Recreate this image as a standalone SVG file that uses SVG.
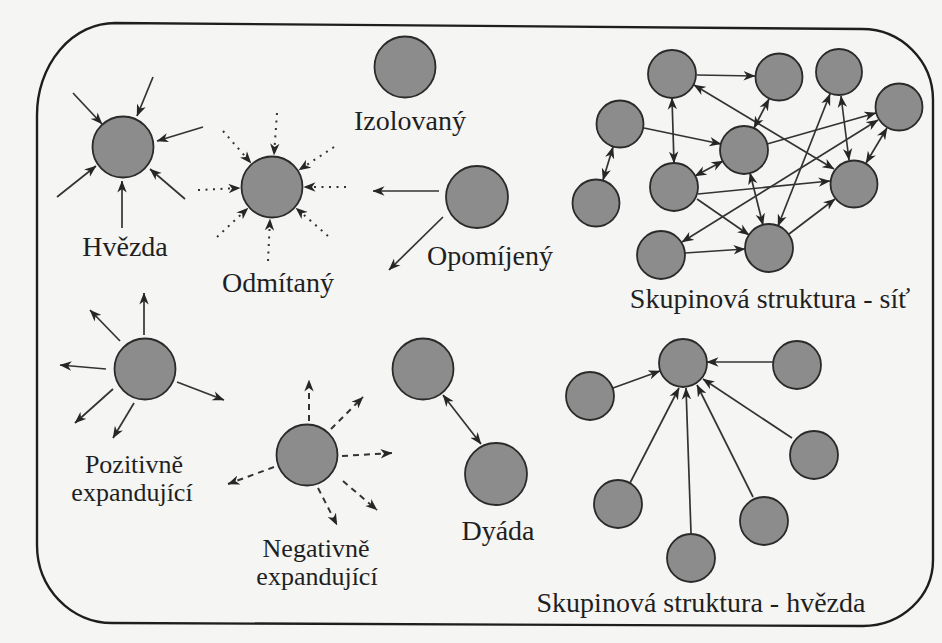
<svg xmlns="http://www.w3.org/2000/svg" width="942" height="643" viewBox="0 0 942 643">
<defs>
<style>
.bg{fill:#f5f5f3}
.frame{fill:none;stroke:#1e1e1e;stroke-width:2.4}
.n{fill:#8c8c8c;stroke:#2a2a2a;stroke-width:1.8}
.t{font-family:"Liberation Serif","Times New Roman",serif;font-size:28px;fill:#1f1f1f;text-anchor:middle}
.t2{font-size:26px}
.e{fill:none;stroke:#333;stroke-width:1.7}
.one{marker-end:url(#ah)}
.two{marker-start:url(#ah);marker-end:url(#ah)}
.dot{stroke-dasharray:2 5.5;stroke-width:2}
.dash{stroke-dasharray:6 5;stroke-width:2}
</style>
<marker id="ah" viewBox="0 0 12 10" refX="11.5" refY="5" markerWidth="12" markerHeight="10" markerUnits="userSpaceOnUse" orient="auto-start-reverse">
<path d="M0,0.3 L12,5 L0,9.7 L3.5,5 Z" fill="#262626"/>
</marker>
</defs>
<rect class="bg" x="0" y="0" width="942" height="643"/>
<path class="frame" d="M115,23 L862,29 A71 71 0 0 1 933,100 L933,560 A70 66 0 0 1 863,626 L112,623 A75 78 0 0 1 37,545 L37,115 A78 92 0 0 1 115,23 Z"/>

<g id="connectors">
<!-- Hvezda (incoming) -->
<line class="e one" x1="73" y1="93" x2="102" y2="124"/>
<line class="e one" x1="153" y1="77" x2="137" y2="116"/>
<line class="e one" x1="203" y1="127" x2="157" y2="141"/>
<line class="e one" x1="57" y1="197" x2="96" y2="166"/>
<line class="e one" x1="185" y1="199" x2="150" y2="169"/>
<line class="e one" x1="122" y1="228" x2="122" y2="181"/>
<!-- Odmitany (dotted incoming) -->
<line class="e one dot" x1="277" y1="113" x2="274" y2="155"/>
<line class="e one dot" x1="334" y1="147" x2="299" y2="170"/>
<line class="e one dot" x1="346" y1="187" x2="304" y2="187"/>
<line class="e one dot" x1="328" y1="236" x2="296" y2="208"/>
<line class="e one dot" x1="268" y1="261" x2="270" y2="219"/>
<line class="e one dot" x1="217" y1="237" x2="248" y2="208"/>
<line class="e one dot" x1="198" y1="190" x2="240" y2="188"/>
<line class="e one dot" x1="223" y1="131" x2="251" y2="163"/>
<!-- Opomijeny (outgoing) -->
<line class="e one" x1="439" y1="191" x2="373" y2="191"/>
<line class="e one" x1="443" y1="217" x2="389" y2="270"/>
<!-- Pozitivne expandujici -->
<line class="e one" x1="144" y1="335" x2="144" y2="293"/>
<line class="e one" x1="120" y1="341" x2="90" y2="310"/>
<line class="e one" x1="106" y1="369" x2="60" y2="365"/>
<line class="e one" x1="113" y1="389" x2="75" y2="423"/>
<line class="e one" x1="134" y1="403" x2="113" y2="438"/>
<line class="e one" x1="177" y1="382" x2="224" y2="400"/>
<!-- Negativne expandujici (dashed) -->
<line class="e one dash" x1="309" y1="421" x2="309" y2="380"/>
<line class="e one dash" x1="331" y1="429" x2="363" y2="397"/>
<line class="e one dash" x1="342" y1="456" x2="392" y2="453"/>
<line class="e one dash" x1="343" y1="481" x2="377" y2="510"/>
<line class="e one dash" x1="318" y1="488" x2="337" y2="525"/>
<line class="e one dash" x1="274" y1="467" x2="228" y2="484"/>
<!-- Dyada -->
<line class="e two" x1="443" y1="395" x2="481" y2="444"/>
<!-- Skupinova struktura - sit -->
<line class="e one" x1="697" y1="75" x2="755" y2="76"/>
<line class="e two" x1="694" y1="85" x2="834" y2="169"/>
<line class="e two" x1="672" y1="98" x2="674" y2="163"/>
<line class="e one" x1="644" y1="128" x2="721" y2="144"/>
<line class="e two" x1="613" y1="147" x2="603" y2="180"/>
<line class="e two" x1="769" y1="99" x2="754" y2="128"/>
<line class="e two" x1="723" y1="161" x2="695" y2="176"/>
<line class="e one" x1="767" y1="144" x2="876" y2="113"/>
<line class="e two" x1="841" y1="96" x2="849" y2="160"/>
<line class="e two" x1="887" y1="128" x2="866" y2="163"/>
<line class="e two" x1="778" y1="226" x2="830" y2="94"/>
<line class="e two" x1="750" y1="173" x2="763" y2="225"/>
<line class="e one" x1="698" y1="194" x2="830" y2="181"/>
<line class="e one" x1="697" y1="199" x2="749" y2="235"/>
<line class="e two" x1="878" y1="120" x2="682" y2="242"/>
<line class="e one" x1="685" y1="253" x2="745" y2="249"/>
<line class="e one" x1="789" y1="234" x2="835" y2="199"/>
<!-- Skupinova struktura - hvezda -->
<line class="e one" x1="773" y1="362" x2="707" y2="362"/>
<line class="e one" x1="613" y1="388" x2="660" y2="371"/>
<line class="e one" x1="792" y1="438" x2="703" y2="379"/>
<line class="e one" x1="753" y1="497" x2="697" y2="385"/>
<line class="e one" x1="691" y1="533" x2="686" y2="388"/>
<line class="e one" x1="630" y1="483" x2="679" y2="388"/>
</g>

<g id="hvezda"><circle class="n" cx="123" cy="147" r="30.5"/><text class="t" x="125" y="256">Hvězda</text></g>
<g id="izolovany"><circle class="n" cx="405" cy="67" r="30.5"/><text class="t" x="410" y="130">Izolovaný</text></g>
<g id="odmitany"><circle class="n" cx="272" cy="187" r="30.5"/><text class="t" x="278" y="292">Odmítaný</text></g>
<g id="opomijeny"><circle class="n" cx="477" cy="197" r="31"/><text class="t" x="490" y="265">Opomíjený</text></g>
<g id="pozitivne"><circle class="n" cx="145" cy="369" r="30.5"/><text class="t t2" x="134" y="473">Pozitivně</text><text class="t t2" x="132" y="501">expandující</text></g>
<g id="negativne"><circle class="n" cx="307" cy="455" r="30.5"/><text class="t t2" x="316" y="557">Negativně</text><text class="t t2" x="317" y="585">expandující</text></g>
<g id="dyada"><circle class="n" cx="423" cy="369" r="30.5"/><circle class="n" cx="496" cy="474" r="31"/><text class="t" x="498" y="540">Dyáda</text></g>

<g id="sit">
<circle class="n" cx="672" cy="74" r="24"/>
<circle class="n" cx="779" cy="77" r="23.5"/>
<circle class="n" cx="839" cy="72" r="23"/>
<circle class="n" cx="899" cy="107" r="23.5"/>
<circle class="n" cx="620" cy="124" r="23.5"/>
<circle class="n" cx="744" cy="150" r="24"/>
<circle class="n" cx="674" cy="187" r="24"/>
<circle class="n" cx="854" cy="184" r="23.5"/>
<circle class="n" cx="596" cy="203" r="23.5"/>
<circle class="n" cx="661" cy="255" r="24"/>
<circle class="n" cx="769" cy="248" r="24"/>
<text class="t" x="770" y="308">Skupinová struktura - síť</text>
</g>

<g id="skupinova-hvezda">
<circle class="n" cx="683" cy="363" r="24"/>
<circle class="n" cx="797" cy="365" r="24"/>
<circle class="n" cx="590" cy="396" r="24"/>
<circle class="n" cx="814" cy="455" r="24"/>
<circle class="n" cx="618" cy="504" r="24"/>
<circle class="n" cx="764" cy="521" r="24"/>
<circle class="n" cx="691" cy="558" r="24"/>
<text class="t" x="701" y="612">Skupinová struktura - hvězda</text>
</g>
</svg>
